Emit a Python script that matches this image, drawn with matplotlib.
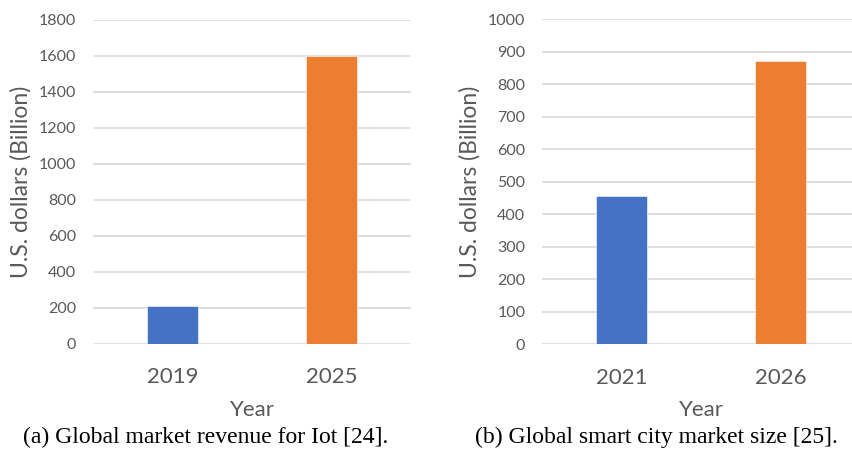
import matplotlib
matplotlib.use("Agg")
import matplotlib.pyplot as plt

# data
years_a = ["2019", "2025"]
revenue_a = [211, 1600]
years_b = ["2021", "2026"]
size_b = [455, 872]

blue = "#4472C4"
orange = "#ED7D31"
grey = "#595959"

plt.rcParams["font.family"] = "Lato"

W, H = 853, 449
fig = plt.figure(figsize=(W / 100, H / 100), dpi=100)


def panel(x0, y0, y1, ymax, step, cats, vals):
    # x0 = left pixel, y0 = pixel of zero line, y1 = pixel of top gridline
    ax = fig.add_axes([x0 / W, (H - y0) / H, 318 / W, (y0 - y1) / H])
    ax.bar(range(len(cats)), vals, width=0.315, color=[blue, orange],
           edgecolor="white", linewidth=0.4, zorder=3)
    ax.set_xlim(-0.5, len(cats) - 0.5)
    ax.set_ylim(0, ymax)
    ax.set_yticks(range(0, ymax + 1, step))
    ax.set_xticks(range(len(cats)))
    ax.set_xticklabels(cats)
    ax.yaxis.grid(True, color="#D9D9D9", lw=1.2, zorder=0)
    ax.set_axisbelow(True)
    for s in ax.spines.values():
        s.set_visible(False)
    ax.tick_params(axis="y", length=0, pad=12, labelsize=11.5, labelcolor=grey)
    ax.tick_params(axis="x", length=0, pad=17, labelsize=16, labelcolor=grey)
    return ax


panel(93, 343.7, 19.5, 1800, 200, years_a, revenue_a)
panel(542, 344.3, 19.3, 1000, 100, years_b, size_b)

# axis titles
for xl, xy in [(21, 252), (470, 701)]:
    fig.text(xl / W, 1 - 182 / H, "U.S. dollars (Billion)", rotation=90,
             ha="center", va="center", fontsize=16.5, color=grey)
    fig.text(xy / W, 1 - 410 / H, "Year", ha="center", va="center",
             fontsize=16, color=grey)

# captions
fig.text(206 / W, 1 - 437 / H, "(a) Global market revenue for Iot [24].",
         ha="center", va="center", fontsize=17, family="Liberation Serif")
fig.text(656 / W, 1 - 437 / H, "(b) Global smart city market size [25].",
         ha="center", va="center", fontsize=17, family="Liberation Serif")

fig.savefig("out.png", dpi=100)
